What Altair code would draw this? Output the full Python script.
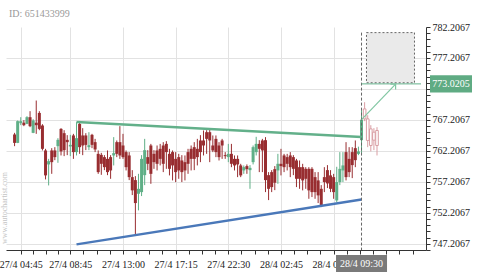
import altair as alt
import pandas as pd

FONT = "Liberation Serif"
RED = "#982d30"
GREEN = "#5faf87"
PINK = "#d99ea3"
LINE_GREEN = "#63b08a"
BLUE = "#4a78b9"

chart_id = "ID: 651433999"
watermark = "www.autochartist.com"

# ---- candles (15-minute bars, index positions) ----
opens = [764.85, 763.49, 766.67, 766.75, 766.56, 767.64, 765.11, 766.75, 768.33, 766.30,
         762.27, 760.01, 762.27, 762.27, 762.96, 765.75, 765.06, 763.98, 762.91, 764.69,
         762.00, 766.56, 764.69, 764.69, 762.80, 764.79, 763.61, 761.72, 761.56, 761.19,
         760.91, 761.19, 761.46, 763.61, 763.61, 763.07, 762.00, 761.46, 757.96, 757.48,
         755.27, 755.54, 758.28, 761.19, 763.07, 761.72, 762.27, 762.53, 763.07, 763.33,
         761.72, 762.00, 760.91, 761.19, 760.65, 760.38, 762.00, 762.53, 762.80, 762.53,
         763.88, 763.88, 765.22, 765.22, 763.07, 764.14, 763.07, 763.88, 761.51, 761.19,
         761.72, 760.91, 760.91, 759.85, 759.04, 759.74, 759.09, 760.38, 762.00, 763.33,
         763.88, 763.93, 758.28, 758.77, 759.25, 759.04, 760.11, 761.46, 761.19, 761.46,
         761.19, 760.65, 759.57, 759.57, 759.30, 759.30, 759.30, 757.96, 757.43, 756.07,
         757.96, 759.09, 758.24, 757.96, 754.20, 757.16, 759.04, 762.00, 760.91, 762.00,
         762.64, 761.72, 763.93]
highs = [765.11, 767.11, 767.64, 767.16, 767.80, 768.61, 767.32, 770.33, 768.61, 766.51,
         762.53, 760.91, 762.64, 762.80, 764.25, 765.87, 765.54, 764.74, 764.79, 764.95,
         766.83, 766.72, 765.87, 765.06, 765.22, 764.95, 764.14, 762.27, 761.88, 761.51,
         762.27, 761.51, 764.42, 763.88, 766.19, 764.95, 762.27, 762.00, 759.09, 758.12,
         758.49, 761.51, 764.14, 762.32, 763.33, 762.32, 763.07, 763.33, 763.61, 763.77,
         762.53, 762.27, 762.00, 761.72, 761.51, 761.46, 762.53, 763.07, 763.61, 764.14,
         764.74, 765.49, 765.54, 765.65, 764.69, 764.69, 763.61, 764.14, 762.00, 763.33,
         763.33, 761.46, 761.46, 760.11, 759.85, 760.01, 759.90, 763.07, 764.47, 763.93,
         764.14, 764.42, 758.77, 759.09, 759.74, 761.72, 762.53, 761.72, 761.72, 762.00,
         761.51, 760.91, 760.65, 760.11, 759.57, 759.57, 759.57, 758.77, 758.77, 756.67,
         759.57, 759.90, 759.09, 758.49, 759.63, 762.00, 762.00, 763.61, 762.80, 762.80,
         763.88, 762.88, 768.77]
lows = [762.96, 763.45, 766.35, 766.19, 766.51, 766.03, 765.06, 764.95, 765.54, 762.27,
        757.59, 756.62, 758.49, 760.70, 760.27, 761.46, 761.35, 761.51, 761.35, 760.91,
        761.46, 761.72, 761.51, 762.32, 762.32, 762.64, 762.00, 758.49, 758.33, 759.09,
        758.28, 757.69, 759.85, 761.19, 760.91, 760.91, 759.04, 757.48, 755.06, 748.77,
        752.59, 754.90, 756.67, 759.09, 756.88, 759.30, 759.04, 759.85, 758.77, 759.30,
        758.24, 757.43, 757.16, 757.69, 757.16, 757.43, 758.49, 759.04, 759.09, 759.85,
        760.38, 761.46, 761.72, 760.38, 762.00, 761.19, 760.65, 760.91, 760.91, 760.38,
        759.57, 759.04, 757.96, 757.96, 758.49, 758.49, 756.07, 760.01, 761.46, 758.77,
        758.77, 755.54, 754.25, 755.54, 755.86, 756.88, 758.24, 758.77, 759.04, 757.96,
        758.28, 756.35, 756.07, 755.82, 756.07, 754.46, 754.74, 754.46, 753.77, 753.12,
        755.54, 756.19, 755.54, 754.46, 753.93, 756.67, 757.16, 757.43, 757.96, 757.80,
        759.57, 761.51, 761.83]
closes = [763.49, 767.00, 767.00, 766.35, 767.64, 766.19, 767.11, 766.35, 765.75, 762.53,
          758.24, 760.54, 760.38, 761.19, 763.98, 762.11, 762.32, 763.61, 763.17, 762.00,
          764.25, 762.80, 763.07, 763.17, 763.12, 763.17, 762.43, 758.77, 760.11, 759.57,
          758.77, 759.04, 761.83, 761.72, 761.46, 761.19, 759.57, 757.96, 755.82, 753.77,
          756.07, 760.91, 762.32, 760.11, 758.49, 760.38, 760.11, 760.91, 760.11, 762.00,
          759.30, 759.85, 758.77, 759.04, 758.77, 759.04, 760.11, 760.91, 760.91, 761.19,
          762.00, 763.07, 764.14, 763.88, 762.27, 762.00, 761.19, 763.07, 761.35, 761.72,
          760.11, 759.85, 760.01, 758.24, 759.57, 759.25, 759.46, 762.80, 763.33, 762.53,
          762.27, 757.48, 756.07, 756.35, 757.05, 760.11, 759.74, 759.57, 760.11, 759.57,
          759.30, 757.69, 757.69, 757.43, 757.69, 755.82, 755.54, 755.54, 755.01, 753.40,
          757.16, 756.94, 756.07, 755.54, 757.16, 759.30, 759.85, 757.96, 758.77, 759.90,
          760.70, 762.11, 767.24]

# candles after the breakout (shown faded)
f_idx = [113, 114, 115, 116, 117]
f_open = [767.37, 767.37, 765.75, 765.22, 765.49]
f_high = [770.06, 767.96, 766.35, 765.87, 766.03]
f_low = [767.00, 762.80, 762.11, 762.32, 761.46]
f_close = [768.98, 763.88, 763.07, 763.93, 763.07]

# pattern lines (index, price)
res_x = [20, 112]
res_y = [766.85, 764.45]
sup_x = [20, 112]
sup_y = [747.10, 754.35]

# forecast
breakout_idx = 112
breakout_label = "28/4 09:30"
target_price = 773.0205
target_label = "773.0205"
box_x = [113.6, 129.1]
box_y = [773.2, 781.3]
arrow_x = [112, 123]
arrow_y = [767.24, 772.97]

# axes
x_major = [2, 18, 35, 52, 69, 86, 103]
x_labels = ["27/4 04:45", "27/4 08:45", "27/4 13:00", "27/4 17:15",
            "27/4 22:30", "28/4 02:45", "28/4 07:00"]
x_minor = [6, 10, 14, 22.25, 26.5, 30.75, 39.25, 43.5, 47.75, 56.25, 60.5, 64.75,
           73.25, 77.5, 81.75, 90.25, 94.5, 98.75, 107.25, 111.5, 115.75, 120, 124.25, 128.5]
y_major = [747.2067, 752.2067, 757.2067, 762.2067, 767.2067, 772.2067, 777.2067, 782.2067]
y_ticks = [round(746.2067 + k, 4) for k in range(37)]

X_DOMAIN = [-1.15, 131.2]
Y_DOMAIN = [746.19, 782.2067]
xs = alt.Scale(domain=X_DOMAIN, nice=False, zero=False)
ys = alt.Scale(domain=Y_DOMAIN, nice=False, zero=False)

x_label_expr = (f"indexof({x_major}, datum.value) >= 0 ? "
                f"{x_labels}[indexof({x_major}, datum.value)] : ''")
major_test = "abs((datum.value - 747.2067) / 5 - round((datum.value - 747.2067) / 5)) < 0.001"

x_axis = alt.Axis(
    values=sorted(x_major + x_minor), labelExpr=x_label_expr, title=None,
    grid=True, gridColor="#e2e2e2",
    gridOpacity={"condition": {"test": f"indexof({x_major}, datum.value) >= 0", "value": 1}, "value": 0},
    tickSize=4, tickColor="#333", domainColor="#333",
    labelFont=FONT, labelFontSize=10, labelColor="#222", labelPadding=5,
    labelFlush=False, labelOverlap=False)
y_axis = alt.Axis(
    orient="right", values=y_ticks, title=None,
    labelExpr=f"{major_test} ? format(datum.value, '.4f') : ''",
    grid=True, gridColor="#e2e2e2",
    gridOpacity={"condition": {"test": f"{major_test} && datum.value < 782", "value": 1}, "value": 0},
    tickSize=4, tickColor="#333", domainColor="#333",
    labelFont=FONT, labelFontSize=10, labelColor="#222", labelPadding=2,
    labelFlush=False, labelOverlap=False)


def X(f):
    return alt.X(f, type="quantitative", scale=xs, axis=x_axis)


def Y(f):
    return alt.Y(f, type="quantitative", scale=ys, axis=y_axis)


df = pd.DataFrame({"i": list(range(len(opens))), "open": opens, "high": highs,
                   "low": lows, "close": closes})
fdf = pd.DataFrame({"i": f_idx, "open": f_open, "high": f_high, "low": f_low, "close": f_close})
col = alt.condition("datum.close >= datum.open", alt.value(GREEN), alt.value(RED))

wicks = alt.Chart(df).mark_rule(strokeWidth=1).encode(
    x=X("i"), y=Y("low"), y2="high", color=col)
bodies = alt.Chart(df).mark_bar(size=3).encode(
    x=X("i"), y=Y("open"), y2="close", color=col)

f_wicks = alt.Chart(fdf).mark_rule(strokeWidth=1, color=PINK).encode(
    x=X("i"), y=Y("low"), y2="high")
f_bodies = alt.Chart(fdf).mark_bar(size=2.6, fill="white", stroke=PINK, strokeWidth=1).encode(
    x=X("i"), y=Y("open"), y2="close")


def seg(xv, yv):
    return pd.DataFrame({"x1": [xv[0]], "x2": [xv[1]], "y1": [yv[0]], "y2": [yv[1]]})


res = alt.Chart(seg(res_x, res_y)).mark_rule(strokeWidth=2.5, color=LINE_GREEN).encode(
    x=X("x1"), x2="x2", y=Y("y1"), y2="y2")
sup = alt.Chart(seg(sup_x, sup_y)).mark_rule(strokeWidth=2.5, color=BLUE).encode(
    x=X("x1"), x2="x2", y=Y("y1"), y2="y2")

box = alt.Chart(seg(box_x, box_y)).mark_rect(
    fill="#eaeaea", stroke="#666", strokeDash=[2, 2], strokeWidth=1).encode(
    x=X("x1"), x2="x2", y=Y("y1"), y2="y2")
vline = alt.Chart(seg([breakout_idx, breakout_idx], [box_y[1], Y_DOMAIN[0]])).mark_rule(
    color="#666", strokeDash=[3, 2], strokeWidth=1).encode(x=X("x1"), y=Y("y1"), y2="y2")
pline = alt.Chart(seg([breakout_idx, X_DOMAIN[1]], [target_price, target_price])).mark_rule(
    color=LINE_GREEN, strokeWidth=1).encode(x=X("x1"), x2="x2", y=Y("y1"))
arrow = alt.Chart(seg(arrow_x, arrow_y)).mark_rule(color="#80c6a2", strokeWidth=1.2).encode(
    x=X("x1"), x2="x2", y=Y("y1"), y2="y2")
head = alt.Chart(seg(arrow_x, arrow_y)).mark_point(
    shape="M-0.7,0.7L0,0L0.7,0.7", filled=False, strokeWidth=1.2, size=110, angle=45,
    color="#80c6a2", opacity=1).encode(x=X("x2"), y=Y("y2"))

pdf = pd.DataFrame({"p": [target_price], "t": [target_label]})
pbox = alt.Chart(pdf).mark_point(
    shape="M-1,-0.405L1,-0.405L1,0.405L-1,0.405Z", size=1764, filled=True,
    color="#5fab83", opacity=1, strokeWidth=0).encode(x=alt.value(445), y=Y("p"))
ptext = alt.Chart(pdf).mark_text(font=FONT, fontSize=10, color="white").encode(
    x=alt.value(445), y=Y("p"), text="t:N")

tdf = pd.DataFrame({"i": [breakout_idx], "t": [breakout_label]})
tbox = alt.Chart(tdf).mark_point(
    shape="M-1,-0.3333L1,-0.3333L1,0.3333L-1,0.3333Z", size=2601, filled=True,
    color="#7a7a7a", opacity=1, strokeWidth=0).encode(x=X("i"), y=alt.value(236.5))
ttext = alt.Chart(tdf).mark_text(font=FONT, fontSize=10, color="white").encode(
    x=X("i"), y=alt.value(236.5), text="t:N")

title = alt.Chart(pd.DataFrame({"t": [chart_id]})).mark_text(
    font=FONT, fontSize=10, color="#999", align="left", baseline="alphabetic").encode(
    x=alt.value(3), y=alt.value(-10.5), text="t:N")
wm = alt.Chart(pd.DataFrame({"t": [watermark]})).mark_text(
    font=FONT, fontSize=8, color="#c4c4c4", angle=270).encode(
    x=alt.value(-1), y=alt.value(181), text="t:N")

chart = alt.layer(
    wicks, bodies, box, f_wicks, f_bodies, res, sup, vline, pline, arrow, head,
    pbox, ptext, tbox, ttext, title, wm
).properties(
    width=420, height=223, autosize="none",
    padding={"left": 6, "top": 27, "right": 54, "bottom": 25},
    background="white"
).configure(font=FONT).configure_view(strokeWidth=0)

chart.save("out.html", embed_options={"renderer": "svg", "actions": False})
